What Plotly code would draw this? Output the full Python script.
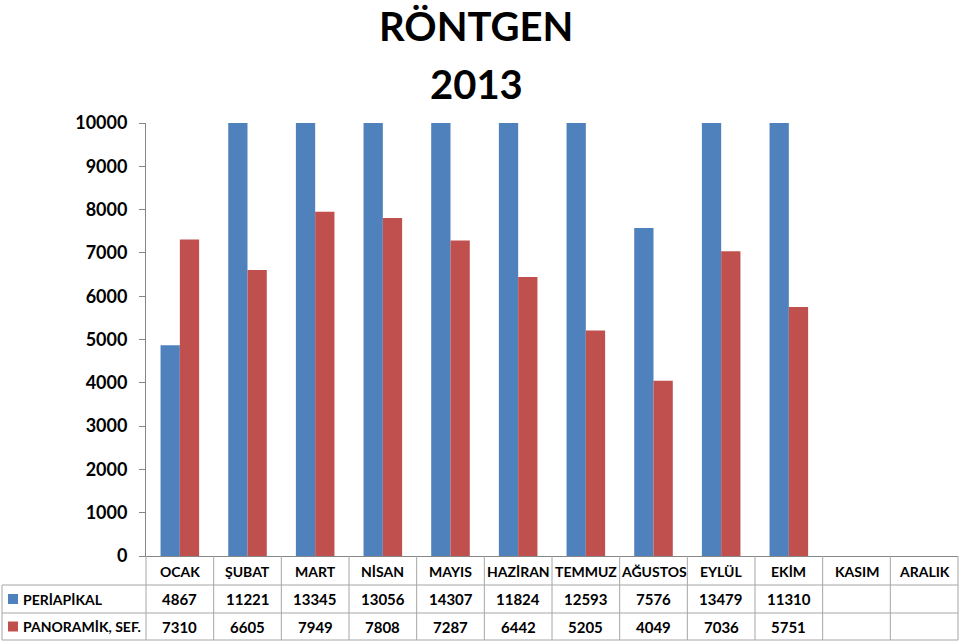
import plotly.graph_objects as go

months = ["OCAK", "ŞUBAT", "MART", "NİSAN", "MAYIS", "HAZİRAN", "TEMMUZ",
          "AĞUSTOS", "EYLÜL", "EKİM", "KASIM", "ARALIK"]
series_names = ["PERİAPİKAL", "PANORAMİK, SEF."]
periapikal = [4867, 11221, 13345, 13056, 14307, 11824, 12593, 7576, 13479, 11310, None, None]
panoramik = [7310, 6605, 7949, 7808, 7287, 6442, 5205, 4049, 7036, 5751, None, None]
y_ticks = [0, 1000, 2000, 3000, 4000, 5000, 6000, 7000, 8000, 9000, 10000]
colors = ["#4F81BD", "#C0504D"]

FONT = "Lato"
W_FIG, H_FIG = 960, 642
L, R, T, B = 146, 958, 123, 556
PW, PH = R - L, B - T


def px(x):
    return (x - L) / PW


def py(y):
    return (B - y) / PH


fig = go.Figure()
for name, vals, col in zip(series_names, [periapikal, panoramik], colors):
    fig.add_trace(go.Bar(x=list(range(len(months))), y=vals, name=name,
                         marker=dict(color=col, line=dict(width=0))))

shapes = []
annotations = []
grid = "#A6A6A6"
y_head_top, y_r1, y_r2, y_bot = 556, 585, 613, 640
for yy in [y_r1, y_r2, y_bot]:
    shapes.append(dict(type="line", xref="paper", yref="paper", x0=px(2), x1=px(R),
                       y0=py(yy), y1=py(yy), line=dict(color=grid, width=1)))
n = len(months)
for i in range(n + 1):
    xp = L + i * PW / n
    shapes.append(dict(type="line", xref="paper", yref="paper", x0=px(xp), x1=px(xp),
                       y0=py(y_head_top), y1=py(y_bot), line=dict(color=grid, width=1)))
shapes.append(dict(type="line", xref="paper", yref="paper", x0=px(2), x1=px(2),
                   y0=py(y_r1), y1=py(y_bot), line=dict(color=grid, width=1)))

HF = dict(family=FONT, size=14, color="black", weight="bold")
TF = dict(family=FONT, size=15, color="black", weight="bold")
for i, m in enumerate(months):
    annotations.append(dict(x=i, xref="x", y=py((y_head_top + y_r1) / 2 + 1), yref="paper",
                            text=m, showarrow=False, xanchor="center", yanchor="middle", font=HF))
for row_vals, (ya, yb) in zip([periapikal, panoramik], [(y_r1, y_r2), (y_r2, y_bot)]):
    for i, v in enumerate(row_vals):
        if v is None:
            continue
        annotations.append(dict(x=i, xref="x", y=py((ya + yb) / 2), yref="paper",
                                text=str(v), showarrow=False, xanchor="center", yanchor="middle",
                                font=TF))
for name, col, (ya, yb) in zip(series_names, colors, [(y_r1, y_r2), (y_r2, y_bot)]):
    yc = (ya + yb) / 2
    shapes.append(dict(type="rect", xref="paper", yref="paper", x0=px(8), x1=px(18),
                       y0=py(yc + 5), y1=py(yc - 5), fillcolor=col, line=dict(width=0)))
    annotations.append(dict(x=px(21), xref="paper", y=py(yc), yref="paper", text=name,
                            showarrow=False, xanchor="left", yanchor="middle",
                            font=dict(family=FONT, size=14, color="black", weight="bold")))

for txt, yc in [("RÖNTGEN", 26), ("2013", 84)]:
    annotations.append(dict(x=px(476), xref="paper", y=py(yc), yref="paper", text=txt,
                            showarrow=False, xanchor="center", yanchor="middle",
                            font=dict(family=FONT, size=40, color="black", weight="bold")))

fig.update_layout(
    width=W_FIG, height=H_FIG,
    margin=dict(l=L, r=W_FIG - R, t=T, b=H_FIG - B, pad=0),
    paper_bgcolor="white", plot_bgcolor="white",
    barmode="group", bargap=0.43, bargroupgap=0,
    showlegend=False,
    shapes=shapes, annotations=annotations,
    xaxis=dict(range=[-0.5, n - 0.5], showticklabels=False, ticks="", showgrid=False,
               showline=True, linecolor="#868686", linewidth=1, zeroline=False, fixedrange=True),
    yaxis=dict(range=[0, 10000], tickvals=y_ticks, ticktext=[str(v) for v in y_ticks],
               ticks="outside", ticklen=6,
               tickcolor="#868686", showline=True, linecolor="#868686", linewidth=1,
               showgrid=False, zeroline=False, ticklabelstandoff=8,
               tickfont=dict(family=FONT, size=18, color="black", weight="bold")),
)

fig.write_html("out.html")
